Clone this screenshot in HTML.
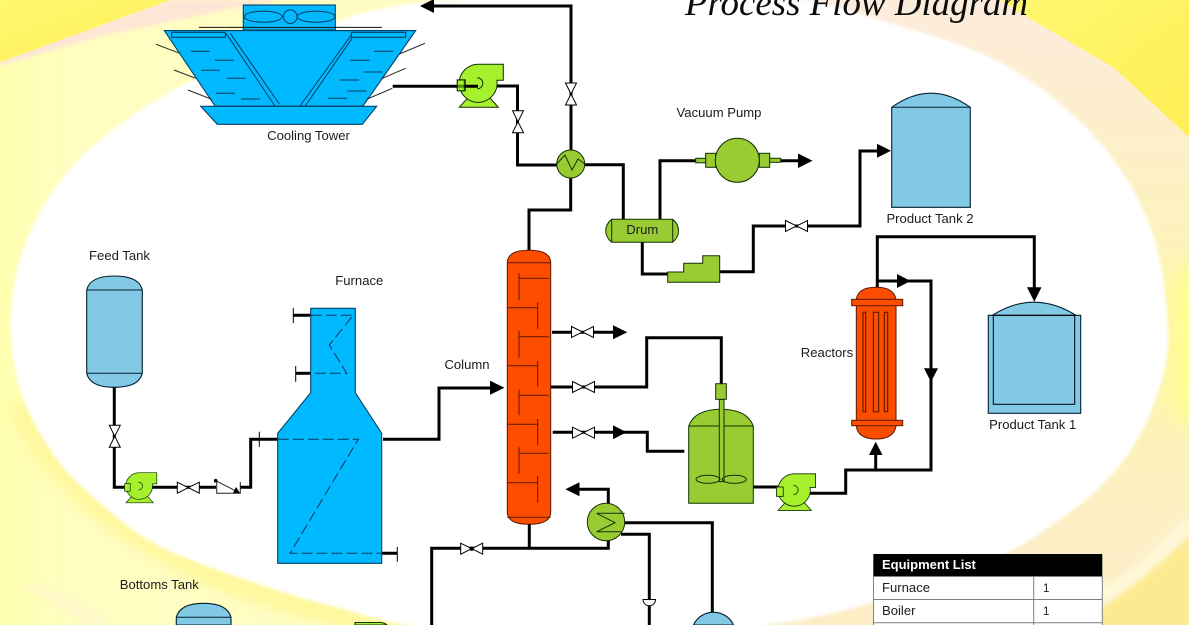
<!DOCTYPE html>
<html lang="en">
<head>
<meta charset="utf-8">
<title>Process Flow Diagram</title>
<style>
html,body{margin:0;padding:0;width:1189px;height:625px;overflow:hidden;background:#fff}
svg{display:block}
text{font-family:"Liberation Sans",Arial,sans-serif;font-size:13.1px;fill:#1c1c1c}
.p{fill:none;stroke:#000;stroke-width:3;stroke-linejoin:miter}
.t{fill:none;stroke:#000;stroke-width:1}
.bl{fill:#00b9ff;stroke:#063f63;stroke-width:1.1}
.tk{fill:#82c9e6;stroke:#04202e;stroke-width:1.1}
.gr{fill:#99cc33;stroke:#123000;stroke-width:1}
.rd{fill:#ff4d00;stroke:#5a1800;stroke-width:1}
.dk{fill:none;stroke:#073a5c;stroke-width:1}
.dh{fill:none;stroke:#073a5c;stroke-width:1;stroke-dasharray:11 4}
.a{fill:#000}
</style>
</head>
<body>
<svg width="1189" height="625" viewBox="0 0 1189 625" xmlns="http://www.w3.org/2000/svg">
<defs>
<linearGradient id="lg" x1="0" y1="0" x2="1" y2="0">
<stop offset="0" stop-color="#ffffb0"/>
<stop offset=".06" stop-color="#fffdc0"/>
<stop offset="1" stop-color="#fffbc8"/>
</linearGradient>
<linearGradient id="rg" x1="0" y1="0" x2="0" y2="1">
<stop offset="0" stop-color="#fdebdc"/>
<stop offset=".3" stop-color="#fdf1c4"/>
<stop offset=".55" stop-color="#fef4ad"/>
<stop offset=".85" stop-color="#fcefc6"/>
<stop offset="1" stop-color="#fcedc4"/>
</linearGradient>
<linearGradient id="yc" x1="0" y1="0" x2="1" y2="1">
<stop offset="0" stop-color="#fff870"/>
<stop offset="1" stop-color="#ffee55"/>
</linearGradient>
<filter id="b1" filterUnits="userSpaceOnUse" x="-50" y="-50" width="1300" height="730"><feGaussianBlur stdDeviation="1.6"/></filter>
<filter id="b2" filterUnits="userSpaceOnUse" x="-50" y="-50" width="1300" height="730"><feGaussianBlur stdDeviation="5"/></filter>
<filter id="b3" filterUnits="userSpaceOnUse" x="-50" y="-50" width="1300" height="730"><feGaussianBlur stdDeviation="12"/></filter>
<g id="vh"><path d="M-11 -5.5L11 5.5L11 -5.5L-11 5.5Z" fill="#fff" stroke="#000" stroke-width="1"/></g>
<g id="vv"><path d="M-5.5 -11L5.5 11L-5.5 11L5.5 -11Z" fill="#fff" stroke="#000" stroke-width="1"/></g>
<g id="pump">
<path d="M-19 24L-10 14L11 14L20 24Z" fill="#a6f02e" stroke="#123000" stroke-width="1"/>
<path d="M0 -19L25 -19L25 -3L18.6 -3A19 19 0 1 1 0 -19Z" fill="#a6f02e" stroke="#123000" stroke-width="1"/>
<path d="M-1 -5.5A5.5 5.5 0 1 1 -1 5.5" fill="none" stroke="#123000" stroke-width="1"/>
<rect x="-21" y="-3.5" width="8" height="11" fill="#a6f02e" stroke="#123000" stroke-width="1"/>
</g>
</defs>

<!-- background -->
<rect width="1189" height="625" fill="url(#lg)"/>
<path d="M20 400Q50 460 93 497T207 567T430 630" fill="none" stroke="#fff8a0" stroke-width="34" filter="url(#b2)"/>
<path d="M30 585Q70 605 105 625" fill="none" stroke="#fdf0d8" stroke-width="5" filter="url(#b2)"/>
<path d="M170 0L285 0L240 7L100 36L0 66L0 60Z" fill="#fde6d6" filter="url(#b1)"/>
<path d="M0 0L170 0L0 62Z" fill="url(#yc)"/>
<path d="M760 0L1189 0L1189 625L700 625L700 300Z" fill="url(#rg)"/>
<path d="M1000 0L1027 17L1113 67L1189 137L1189 0Z" fill="url(#yc)"/>
<path d="M1190 270L1190 420" stroke="#ffff90" stroke-width="36" fill="none" filter="url(#b3)"/>
<path d="M1189 537L1110 603L1070 625L1189 625Z" fill="#fde98f" filter="url(#b1)"/>
<path d="M1189 522Q1150 570 1098 598L1060 625" fill="none" stroke="#fffbe0" stroke-width="11" filter="url(#b2)"/>
<path filter="url(#b1)" fill="#fff" d="M15 280Q23 240 45 203.5Q67 167 100 140Q133 113 166.5 94Q200 75 250 53.5Q300 32 360 14Q420 -4 600 -7Q780 -10 830 5Q880 20 930 35Q980 50 1013.5 70Q1047 90 1080 121.5Q1113 153 1135 193Q1157 233 1163.5 281.5Q1170 330 1167.5 352.5Q1165 375 1152.5 407.5Q1140 440 1120 465Q1100 490 1075 508.5Q1050 527 1030 540Q1010 553 941.5 579.5Q873 606 806.5 619Q740 632 581.5 632Q423 632 381.5 620Q340 608 320 603Q300 598 253.5 582.5Q207 567 175 553.5Q143 540 118 518.5Q93 497 76.5 482Q60 467 40 433.5Q20 400 13.5 360Q7 320 15 280Z"/>

<!-- title -->
<text x="685" y="15" textLength="343" lengthAdjust="spacingAndGlyphs" style="font-family:'Liberation Serif','Times New Roman',serif;font-style:italic;font-size:36.7px;fill:#0c0c0c">Process Flow Diagram</text>

<!-- pipes -->
<path class="p" d="M434 6H571V152"/>
<path class="p" d="M495 86H517.5V165H557"/>
<path class="p" d="M584 164.7H623.3V220"/>
<path class="p" d="M570.7 178V210H529V252"/>
<path class="p" d="M660 220V160.7H696"/>
<path class="p" d="M780 160.7H799"/>
<path class="p" d="M642.3 242V274H668"/>
<path class="p" d="M720 271.7H753.3V226H860V151H879"/>
<path class="p" d="M877.3 288V236.7H1034.3V288"/>
<path class="p" d="M877.3 281H931V470H845.7V493.3H810"/>
<path class="p" d="M875.7 470V452"/>
<path class="p" d="M753 487H778"/>
<path class="p" d="M383 439.3H439V388H491"/>
<path class="p" d="M552 332.3H613"/>
<path class="p" d="M550 387H646.7V337.7H721.3V384"/>
<path class="p" d="M552.7 432.3H647.3V451.3H684.3"/>
<path class="p" d="M608.3 503V489.3H578"/>
<path class="p" d="M608.3 540V548.3H431.7V625"/>
<path class="p" d="M529.3 524V548"/>
<path class="p" d="M624 522.7H712.3V612"/>
<path class="p" d="M621 534.3H649.3V625"/>
<path class="p" d="M114.3 387V487.3H126"/>
<path class="p" d="M151 487.3H216"/>
<path class="p" d="M240 487.3H250.7V439.3H278"/>
<path class="p" d="M293.3 315.3H311"/>
<path class="p" d="M295.7 373.3H311"/>
<path class="p" d="M381 553.3H397.3"/>
<path class="t" d="M293.3 308V323M295.7 366V381.7M397.3 546.7V561.7M259.3 431.7V446.7" stroke-width="1.4"/>

<!-- arrowheads -->
<path class="a" d="M420 6L434 -1V13Z"/>
<path class="a" d="M812.5 160.7L798 153.5V168Z"/>
<path class="a" d="M891 150.7L877 143.7V157.7Z"/>
<path class="a" d="M1034.3 301.7L1027 287.3H1041.5Z"/>
<path class="a" d="M910.5 281L897 274V288Z"/>
<path class="a" d="M931 382L924 368.3H938Z"/>
<path class="a" d="M875.7 441.7L869 455H882.5Z"/>
<path class="a" d="M504.5 387.7L490 380.7V394.7Z"/>
<path class="a" d="M627.3 332.3L613 325.3V339.3Z"/>
<path class="a" d="M626.5 432.3L613 425.3V439.3Z"/>
<path class="a" d="M565.3 489.3L579.5 482.3V496.3Z"/>

<!-- valves -->
<use href="#vv" x="571" y="94"/>
<use href="#vv" x="518" y="121.7"/>
<use href="#vv" x="114.8" y="436.3"/>
<use href="#vh" x="796.5" y="226"/>
<use href="#vh" x="582.5" y="332"/>
<use href="#vh" x="583.5" y="387"/>
<use href="#vh" x="583.5" y="432.7"/>
<use href="#vh" x="188.3" y="487.7"/>
<use href="#vh" x="471.7" y="548.7"/>
<circle cx="471.7" cy="548.7" r="2.2" fill="#000"/>

<!-- check valve -->
<path d="M216.7 480V493.3H240.3V482M215.7 480.7L237.3 491.7" fill="none" stroke="#222" stroke-width="1"/>
<circle cx="215.7" cy="480.7" r="1.8" fill="#000"/>
<path d="M233 493L240 493L236 487Z" fill="#000"/>

<!-- half-circle instrument -->
<path d="M643 599.5H655.5A6.2 6.2 0 0 1 643 599.5Z" fill="#fff" stroke="#000" stroke-width="1"/>

<!-- cooling tower -->
<rect class="bl" x="243.3" y="5" width="92" height="25"/>
<ellipse class="dk" cx="263.3" cy="16.7" rx="19" ry="5.5"/>
<ellipse class="dk" cx="316" cy="16.7" rx="19" ry="5.5"/>
<circle class="dk" cx="290.3" cy="16.7" r="6.8"/>
<path d="M199 27.4H382" stroke="#111" stroke-width="1"/>
<path class="bl" d="M164.3 30.6H415.7L363 106H215Z"/>
<rect class="bl" x="171.7" y="32.3" width="53.6" height="5"/>
<rect class="bl" x="351.3" y="32.3" width="54.4" height="5"/>
<path class="dk" d="M226 33.3L275 106M230.3 33.3L279.3 104M351.3 35L300 106M352 38.3L305.3 106"/>
<path class="dk" d="M190.7 51.3h19.3M215 60.3h19M201 70.3h19M226.7 78.3h19M216 93.3h19M241 99h19M374 51.3h19.3M350 60.3h20M363.3 72h19M340 80h19M347.3 91h19M328 98.3h19"/>
<path d="M156 44.3L180 53.3M174 70L195.7 78.3M188 90L211.7 99.3M425 43.3L399.3 54M405.7 68.3L382.3 78.3M392.3 88.3L366.7 99.3" stroke="#222" stroke-width="1" fill="none"/>
<path class="bl" d="M200.7 106.3H376.7L362.3 124.3H217.3Z"/>

<!-- pumps -->
<use href="#pump" transform="translate(478.3 83.3)"/>
<path class="p" d="M392.7 86.3H478"/>
<path d="M457.3 80H464.3V90.7H457.3Z" fill="#a6f02e" fill-opacity=".55" stroke="#123000" stroke-width="1"/>
<use href="#pump" transform="translate(139.3 486) scale(.7)"/>
<use href="#pump" transform="translate(794.3 490) scale(.85)"/>
<path d="M355 625V622.5H380Q384 622.5 387 625Z" fill="#a6f02e" stroke="#123000" stroke-width="1"/>

<!-- HX top -->
<circle class="gr" cx="570.7" cy="164" r="14"/>
<path d="M556.7 164L565 155L572 170L578 159L584.7 164" fill="none" stroke="#123000" stroke-width="1"/>

<!-- vacuum pump -->
<rect class="gr" x="695.7" y="158.3" width="10" height="4.5"/>
<rect class="gr" x="705.7" y="153.3" width="10" height="14"/>
<rect class="gr" x="759.3" y="153.3" width="10.4" height="14"/>
<rect class="gr" x="769.7" y="158.3" width="11" height="4"/>
<circle class="gr" cx="737.3" cy="160.3" r="22"/>

<!-- drum -->
<path class="gr" d="M611.7 219.3H672.7Q678.5 224 678.5 230.8Q678.5 237.5 672.7 242.3H611.7Q605.7 237.5 605.7 230.8Q605.7 224 611.7 219.3Z"/>
<path d="M611.7 219.3V242.3M672.7 219.3V242.3" stroke="#123000" stroke-width="1"/>

<!-- stair -->
<path class="gr" d="M667.7 282.3V272H683.7V263.3H702.7V255.7H719.7V282.3Z"/>

<!-- product tank 2 -->
<path class="tk" d="M891.7 107.3Q931 79 970.3 107.3V207.3H891.7Z"/>
<path d="M891.7 107.3H970.3" stroke="#04202e" stroke-width="1"/>

<!-- product tank 1 -->
<rect class="tk" x="988.3" y="315.3" width="92.4" height="98"/>
<path class="tk" d="M992.3 315.3Q1034 289 1076 315.3Z"/>
<rect class="t" x="993.3" y="315.3" width="81.4" height="89" stroke="#04202e"/>

<!-- reactor -->
<path class="rd" d="M856.3 299.5Q858 287.3 876 287.3Q894 287.3 896 299.5V426Q894 439 876 439Q858 439 856.3 426Z"/>
<rect class="rd" x="851.7" y="299.3" width="51" height="6.4"/>
<rect class="rd" x="851.7" y="420.3" width="51" height="5.4"/>
<path d="M863 312.3h2.7v99.4H863ZM873.3 312.3h5.4v99.4h-5.4ZM884.3 312.3h3.4v99.4h-3.4Z" fill="none" stroke="#4a1400" stroke-width="1"/>

<!-- column -->
<path class="rd" d="M507.3 263Q507.3 250.3 529 250.3Q550.7 250.3 550.7 263V512Q550.7 524.3 529 524.3Q507.3 524.3 507.3 512Z"/>
<path d="M507.3 262.7H550.7M507.3 517.3H550.7M519 278.3H548.7M519 273.3V300M507.3 307.7H537.7M537.7 302.3V328.7M519 336.7H548.7M519 331V357.7M507.3 365.7H537.7M537.7 360.7V386.7M519 395.3H548.7M519 389.7V415.3M507.3 424.3H537.7M537.7 419V445M519 453.3H548.7M519 447.3V474M507.3 482.7H537.7M537.7 476V502.7" fill="none" stroke="#5a1800" stroke-width="1"/>

<!-- reactor vessel -->
<path class="gr" d="M688.7 426Q695 409.3 721 409.3Q747 409.3 753.3 426V503.3H688.7Z"/>
<path d="M688.7 426H753.3" stroke="#123000" stroke-width="1"/>
<rect class="gr" x="719.3" y="399.3" width="4.7" height="82.4"/>
<rect class="gr" x="715.7" y="383.7" width="10.6" height="15.6"/>
<ellipse cx="708" cy="479.3" rx="12" ry="4" fill="none" stroke="#123000" stroke-width="1"/>
<ellipse cx="734.3" cy="479.3" rx="12" ry="4" fill="none" stroke="#123000" stroke-width="1"/>

<!-- exchanger bottom -->
<circle class="gr" cx="606" cy="522" r="18.7"/>
<path d="M624.7 513.3H596.7L615 522.7L596.7 531.7H621.7" fill="none" stroke="#123000" stroke-width="1"/>

<!-- sphere bottom -->
<path class="tk" d="M693.5 625A22 22 0 0 1 733.5 625Z"/>

<!-- feed tank -->
<path class="tk" d="M86.7 290Q90 276 114.5 276Q139 276 142.3 290V373.3Q139 387.3 114.5 387.3Q90 387.3 86.7 373.3Z"/>
<path d="M86.7 290H142.3M86.7 373.3H142.3" stroke="#04202e" stroke-width="1"/>

<!-- bottoms tank -->
<path class="tk" d="M176.3 625V617.3Q180 603.3 203.7 603.3Q227 603.3 231 617.3V625Z"/>
<path d="M176.3 617.3H231" stroke="#04202e" stroke-width="1"/>

<!-- furnace -->
<path class="bl" d="M310.7 308.3H355.3V392.7L381.7 433.3V563.3H277.7V433.3L310.7 392.7Z"/>
<path class="dh" d="M310.7 315.3H353.3L329.3 345L346.7 373.3H310.7"/>
<path class="dh" d="M277.7 439.3H358.3L290 553.3H381.7"/>

<!-- labels -->
<text x="308.5" y="140" text-anchor="middle">Cooling Tower</text>
<text x="719" y="117" text-anchor="middle">Vacuum Pump</text>
<text x="642.3" y="234" text-anchor="middle">Drum</text>
<text x="930" y="223" text-anchor="middle">Product Tank 2</text>
<text x="1032.7" y="429" text-anchor="middle">Product Tank 1</text>
<text x="827" y="357" text-anchor="middle">Reactors</text>
<text x="467" y="369" text-anchor="middle">Column</text>
<text x="359.3" y="285" text-anchor="middle">Furnace</text>
<text x="119.5" y="260" text-anchor="middle">Feed Tank</text>
<text x="159.3" y="589" text-anchor="middle">Bottoms Tank</text>

<!-- equipment list -->
<rect x="873.3" y="576" width="229" height="49" fill="#fff"/>
<rect x="873.3" y="554" width="229" height="22" fill="#000"/>
<path d="M873.5 576V625M1033.7 576V625M1102.3 576V625M873.3 576.5H1102.3M873.3 599.5H1102.3M873.3 622.7H1102.3" fill="none" stroke="#808080" stroke-width="1"/>
<text x="882" y="569" style="font-weight:bold;fill:#fff;font-size:13px">Equipment List</text>
<text x="882" y="592">Furnace</text>
<text x="1043" y="592" style="font-size:11.5px">1</text>
<text x="882" y="615">Boiler</text>
<text x="1043" y="615" style="font-size:11.5px">1</text>
</svg>
</body>
</html>
